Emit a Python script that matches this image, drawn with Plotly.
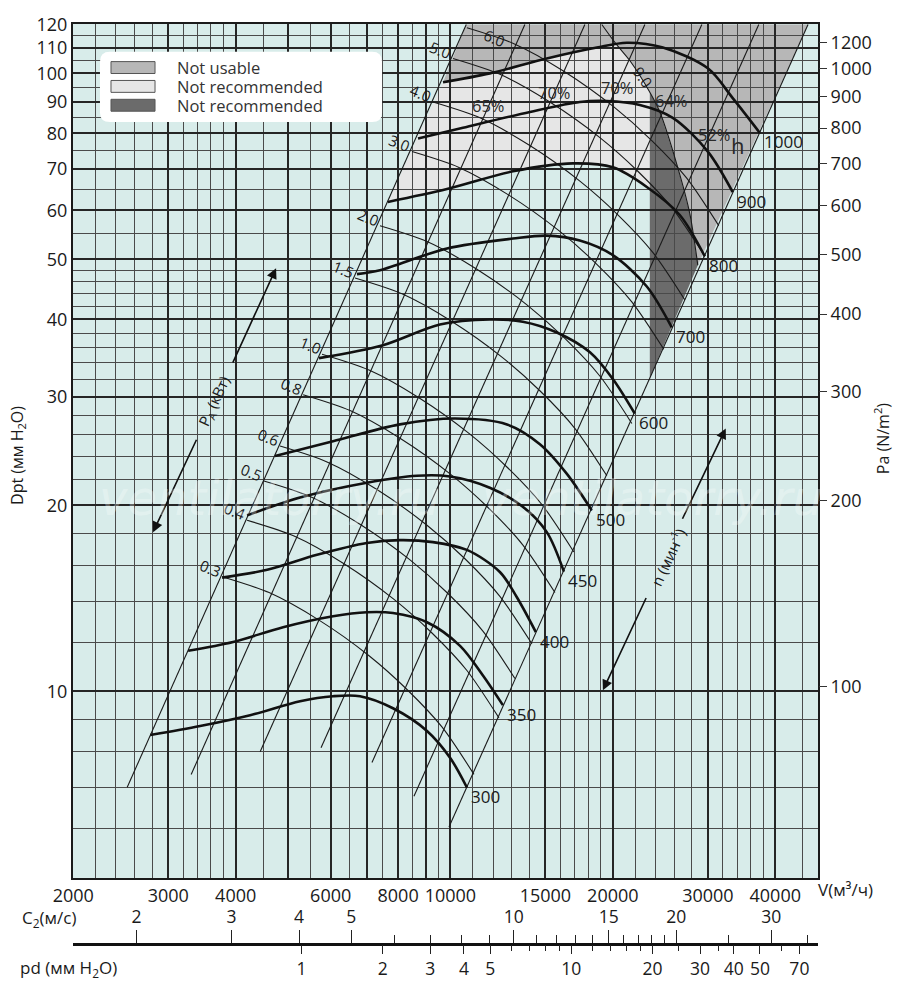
import numpy as np
import plotly.graph_objects as go

lg = np.log10

# fan curves: V (m3/h) against Dpt (mm H2O), one list per speed
rpm_labels = ["300", "350", "400", "450", "500", "600", "700", "800", "900", "1000"]
rpm_V = [
    [2778, 3437, 4254, 5265, 6060, 6800, 7827, 9050, 9985, 10730],
    [3266, 3957, 4897, 6060, 7000, 7827, 9050, 10420, 11490, 12510],
    [3775, 4576, 5660, 7000, 8063, 9283, 10730, 12350, 13280, 14400],
    [4200, 5265, 7000, 8670, 9980, 11830, 13620, 15090, 16230],
    [4733, 6060, 8063, 10200, 12730, 14650, 16440, 18290],
    [5709, 7500, 9564, 11830, 13620, 15750, 18140, 20000, 21960],
    [6713, 7405, 9855, 13060, 15090, 17370, 20000, 23120, 25720],
    [7660, 9855, 13060, 16870, 20000, 23120, 26610, 29610],
    [8710, 10550, 14040, 17370, 19500, 22440, 25830, 30000, 33360],
    [9690, 11830, 15090, 18680, 21230, 24760, 30000, 33360, 37430],
]
rpm_P = [
    [8.50, 8.79, 9.15, 9.64, 9.82, 9.82, 9.39, 8.63, 7.81, 6.99],
    [11.63, 12.02, 12.70, 13.23, 13.43, 13.39, 12.94, 11.85, 10.61, 9.50],
    [15.28, 15.73, 16.63, 17.38, 17.57, 17.44, 16.94, 15.6, 14.2, 12.47],
    [19.27, 20.59, 21.76, 22.33, 22.27, 21.36, 19.9, 18.1, 15.62],
    [24.03, 25.40, 27.04, 27.64, 27.04, 25.12, 22.49, 19.62],
    [34.61, 36.31, 39.23, 39.96, 39.65, 38.09, 35.38, 32.03, 28.16],
    [47.34, 48.04, 52.09, 54.04, 54.64, 53.64, 50.8, 45.2, 38.80],
    [61.94, 64.99, 69.42, 71.50, 70.47, 65.5, 59.0, 50.58],
    [78.43, 81.66, 86.61, 89.87, 90.2, 88.87, 84.72, 74.73, 64.27],
    [96.74, 100.0, 105.7, 110.1, 112.1, 110.1, 101.9, 91.2, 80.17],
]

# shaft power lines P_A (kW)
power_labels = ["0.3", "0.4", "0.5", "0.6", "0.8", "1.0", "1.5", "2.0",
                "3.0", "4.0", "5.0", "6.0", "9.0"]
power_V = [
    [3775, 4613, 5708, 7067, 8309, 9645, 11057],
    [4200, 5132, 6350, 7862, 9244, 10731, 12302],
    [4496, 5494, 6798, 8417, 9896, 11487, 13169],
    [4834, 5907, 7309, 9049, 10640, 12351, 14159],
    [5334, 6518, 8065, 9985, 11740, 13628, 15623],
    [5782, 7066, 8742, 10824, 12726, 14773, 16935],
    [6656, 8134, 10064, 12460, 14650, 17006, 19495],
    [7405, 9049, 11196, 13862, 16298, 18920, 21689],
    [8488, 10372, 12834, 15890, 18682, 21687, 24861],
    [9283, 11344, 14036, 17378, 20432, 23718, 27190],
    [10110, 12354, 15286, 18926, 22252, 25831, 29612],
    [10730, 13112, 16224, 20087, 23617, 27415, 31428],
    [19080, 20260, 21500, 23420, 24440, 26280, 27780, 28740],
]
power_P = [
    [15.33, 14.45, 13.04, 11.42, 10.07, 8.76, 7.34],
    [18.92, 17.84, 16.09, 14.09, 12.43, 10.81, 9.06],
    [21.92, 20.67, 18.64, 16.32, 14.40, 12.52, 10.49],
    [24.94, 23.51, 21.21, 18.57, 16.39, 14.25, 11.94],
    [30.2, 28.47, 25.68, 22.49, 19.84, 17.25, 14.45],
    [35.12, 33.11, 29.86, 26.15, 23.07, 20.06, 16.81],
    [46.65, 43.98, 39.67, 34.74, 30.65, 26.65, 22.33],
    [56.69, 53.45, 48.20, 42.22, 37.25, 32.38, 27.13],
    [74.73, 70.45, 63.54, 55.65, 49.10, 42.69, 35.77],
    [89.87, 84.73, 76.42, 66.93, 59.04, 51.33, 43.01],
    [105.7, 99.65, 89.88, 78.72, 69.44, 60.38, 50.59],
    [118.5, 111.7, 100.8, 88.25, 77.85, 67.69, 56.71],
    [120.0, 111.7, 104.9, 93.2, 86.6, 71.26, 59.27, 48.94],
]
p6_label = (12090, 114.2)
p9_label = (22730, 98.5)

# efficiency lines (straight, Dp ~ V^2): lower and upper ends
eff_V0 = [3308, 4440, 5758, 7156, 8560]
eff_P0 = [7.336, 7.987, 8.106, 7.67, 6.765]
eff_V1 = [13740, 17750, 22930, 29240, 37280]
eff_P1 = [120, 120, 120, 120, 120]
eff_labels = ["65%", "70%", "70%", "64%", "52%"]
eff_label_V = [11790, 15620, 20430, 25720, 30900]
eff_label_P = [88.87, 93.2, 94.97, 90.5, 79.58]

# limits of the working field
left_V = [2518, 10700]
left_P = [6.995, 120]
right_V = [9940, 46000]
right_P = [6.035, 120]
v_limit = 23420

# bottom scales
outlet_area = 0.364  # m2
air_density = 1.2
c2_major = [2, 3, 4, 5, 10, 15, 20, 30]
c2_minor = [6, 7, 8, 9, 11, 12, 13, 14, 16, 17, 18, 19, 25, 35]
pd_major = [1, 2, 3, 4, 5, 10, 20, 30, 40, 50, 70]
pd_minor = [6, 7, 8, 9, 12, 14, 16, 18, 25, 35, 60]

# axes ticks / grid
x_major = [2000, 3000, 4000, 5000, 6000, 7000, 8000, 9000, 10000, 15000, 20000, 30000, 40000]
x_text = ["2000", "3000", "4000", "", "6000", "", "8000", "", "10000", "15000", "20000", "30000", "40000"]
x_minor = [2200, 2400, 2600, 2800, 3200, 3400, 3600, 3800, 4500, 5500, 6500, 7500, 8500, 9500,
           11000, 12000, 13000, 14000, 16000, 17000, 18000, 19000, 22000, 24000, 26000, 28000,
           32000, 34000, 36000, 38000, 45000]
y_major = [10, 20, 30, 40, 50, 60, 70, 80, 90, 100, 110, 120]
y_minor = [5, 6, 7, 8, 9, 12, 14, 16, 18, 22, 24, 26, 28, 32, 34, 36, 38, 42, 44, 46, 48,
           55, 65, 75, 85, 95, 105, 115]
pa_ticks = [100, 200, 300, 400, 500, 600, 700, 800, 900, 1000, 1100]
pa_text = ["100", "200", "300", "400", "500", "600", "700", "800", "900", "1000", "1200"]

GREY_MID = "#b7b7b7"
GREY_LIGHT = "#e6e6e6"
GREY_DARK = "#6b6b6b"
INK = "#1a1a1a"
FONT = "Open Sans"


def path_of(vs, ps):
    pts = ["%s,%s" % (v, p) for v, p in zip(vs, ps)]
    return "M" + " L".join(pts) + " Z"


def log_interp(v, vs, ps):
    return 10 ** np.interp(lg(v), lg(vs), lg(ps))


def paper_text(x, y, text, size=17, angle=0, xanchor="center"):
    fig.add_annotation(xref="paper", yref="paper", x=x, y=y, text=text, showarrow=False,
                       xanchor=xanchor, yanchor="middle", textangle=angle,
                       font=dict(size=size, color=INK))


fig = go.Figure()

# ---- shaded zones (under the grid)
r10V, r10P = rpm_V[-1], rpm_P[-1]
p9V, p9P = power_V[-1], power_P[-1]
v_cross = p9V[1]
top_part = [(v, p) for v, p in zip(r10V, r10P) if v < v_cross]

mid_V = [left_V[1], right_V[1], p9V[-1]] + p9V[1:-1][::-1] + [v for v, p in top_part][::-1]
mid_P = [left_P[1], right_P[1], p9P[-1]] + p9P[1:-1][::-1] + [p for v, p in top_part][::-1]

r8V, r8P = rpm_V[7], rpm_P[7]
p8_lim = log_interp(v_limit, r8V, r8P)
low_part = [(v, p) for v, p in zip(r8V, r8P) if v < v_limit]
i_lim = p9V.index(v_limit)
light_V = [v for v, p in top_part] + p9V[1:i_lim + 1] + [v_limit] + [v for v, p in low_part][::-1]
light_P = [p for v, p in top_part] + p9P[1:i_lim + 1] + [p8_lim] + [p for v, p in low_part][::-1]

right_lim = log_interp(v_limit, right_V, right_P)
dark_V = p9V[i_lim:] + [v_limit]
dark_P = p9P[i_lim:] + [right_lim]

for vs, ps, col in [(mid_V, mid_P, GREY_MID), (light_V, light_P, GREY_LIGHT), (dark_V, dark_P, GREY_DARK)]:
    fig.add_shape(type="path", path=path_of(vs, ps), xref="x", yref="y",
                  fillcolor=col, line=dict(width=0), layer="below")

# ---- thin lines: limits, efficiency lines, power lines
thin = dict(color=INK, width=1.1)
for vs, ps in [(left_V, left_P), (right_V, right_P)]:
    fig.add_trace(go.Scatter(x=vs, y=ps, mode="lines", line=thin, hoverinfo="skip"))
for v0, p0, v1, p1 in zip(eff_V0, eff_P0, eff_V1, eff_P1):
    fig.add_trace(go.Scatter(x=[v0, v1], y=[p0, p1], mode="lines", line=thin, hoverinfo="skip"))
for vs, ps in zip(power_V, power_P):
    fig.add_trace(go.Scatter(x=vs, y=ps, mode="lines", line=dict(color=INK, width=1.1, shape="spline", smoothing=0.8),
                             hoverinfo="skip"))

# ---- fan speed curves
for vs, ps in zip(rpm_V, rpm_P):
    fig.add_trace(go.Scatter(x=vs, y=ps, mode="lines",
                             line=dict(color="#111111", width=2.6, shape="spline", smoothing=0.9),
                             hoverinfo="skip"))

# invisible markers so the extra axes get drawn
c_to_v = 3600 * outlet_area
fig.add_trace(go.Scatter(x=[10], y=[10], xaxis="x2", yaxis="y", mode="markers", marker=dict(opacity=0), hoverinfo="skip"))
fig.add_trace(go.Scatter(x=[10], y=[10], xaxis="x3", yaxis="y", mode="markers", marker=dict(opacity=0), hoverinfo="skip"))
fig.add_trace(go.Scatter(x=[5000], y=[300], xaxis="x", yaxis="y2", mode="markers", marker=dict(opacity=0), hoverinfo="skip"))

# ---- labels
for lab, vs, ps in zip(rpm_labels, rpm_V, rpm_P):
    fig.add_annotation(x=lg(vs[-1]), y=lg(ps[-1]), text=lab, showarrow=False, xanchor="left", yanchor="middle",
                       xshift=2, yshift=-9, font=dict(size=17, color=INK))
for lab, vs, ps in zip(power_labels[:-2], power_V[:-2], power_P[:-2]):
    fig.add_annotation(x=lg(vs[0]), y=lg(ps[0]), text=lab, showarrow=False, textangle=22,
                       xshift=-12, yshift=9, font=dict(size=15, color=INK))
fig.add_annotation(x=lg(p6_label[0]), y=lg(p6_label[1]), text="6.0", showarrow=False, textangle=22,
                   font=dict(size=15, color=INK))
fig.add_annotation(x=lg(p9_label[0]), y=lg(p9_label[1]), text="9.0", showarrow=False, textangle=55,
                   font=dict(size=15, color=INK))
for lab, v, p in zip(eff_labels, eff_label_V, eff_label_P):
    fig.add_annotation(x=lg(v), y=lg(p), text=lab, showarrow=False, font=dict(size=16.5, color="#2a2a2a"))
fig.add_annotation(x=lg(34080), y=lg(76.7), text="h", showarrow=False, font=dict(size=22, color="#2a2a2a"))

# arrows: P_A and n
arrows = [((4753, 48.40), (3940, 33.85)), ((2812, 18.10), (3394, 25.68)),
          ((32380, 26.64), (26840, 18.92)), ((19170, 10.04), (23120, 14.24))]
for (hv, hp), (tv, tp) in arrows:
    fig.add_annotation(x=lg(hv), y=lg(hp), ax=lg(tv), ay=lg(tp), axref="x", ayref="y", text="",
                       showarrow=True, arrowhead=2, arrowsize=1.3, arrowwidth=1.6, arrowcolor="#111111",
                       standoff=0, startstandoff=0)
fig.add_annotation(x=lg(3648), y=lg(29.43), text="P<sub>A</sub> (кВт)", showarrow=False, textangle=-65,
                   font=dict(size=15, color=INK))
fig.add_annotation(x=lg(25290), y=lg(16.51), text="n (мин<sup>-1</sup>)", showarrow=False, textangle=-65,
                   font=dict(size=15, color=INK))

# watermark
for wx in (0.2644, 0.7785):
    fig.add_annotation(xref="paper", yref="paper", x=wx, y=0.5026, text="ventilatorry.ru", showarrow=False,
                       xanchor="center", yanchor="middle",
                       font=dict(family="DejaVu Sans", size=48, color="rgba(255,255,255,0.3)", style="italic"))

# ---- legend box
x0, x1, y0, y1 = 0.0362, 0.4148, 0.897, 0.9709
rx, ry = 0.0134, 0.0104
box = ("M %f,%f L %f,%f Q %f,%f %f,%f L %f,%f Q %f,%f %f,%f L %f,%f Q %f,%f %f,%f L %f,%f Q %f,%f %f,%f Z" %
       (x0 + rx, y1, x1 - rx, y1, x1, y1, x1, y1 - ry, x1, y0 + ry, x1, y0, x1 - rx, y0,
        x0 + rx, y0, x0, y0, x0, y0 + ry, x0, y1 - ry, x0, y1, x0 + rx, y1))
fig.add_shape(type="path", path=box, xref="paper", yref="paper", fillcolor="white",
              line=dict(width=0), layer="above")
legend_rows = [("Not usable", GREY_MID, 0.9605, 0.9480, 0.9542),
               ("Not recommended", GREY_LIGHT, 0.9407, 0.9282, 0.9344),
               ("Not recommended", GREY_DARK, 0.9209, 0.9084, 0.9147)]
for name, col, ya, yb, yc in legend_rows:
    fig.add_shape(type="rect", xref="paper", yref="paper", x0=0.0510, x1=0.1101, y0=yb, y1=ya,
                  fillcolor=col, line=dict(color="#555555", width=1), layer="above")
    fig.add_annotation(xref="paper", yref="paper", x=0.1369, y=yc, text=name, showarrow=False,
                       xanchor="left", yanchor="middle", font=dict(size=16.5, color="#333333"))

# ---- axis titles and scale names
paper_text(-0.0738, 0.5463, "Dpt (мм H<sub>2</sub>O)", size=16, angle=-90)
paper_text(1.086, 0.565, "Pa (N/m<sup>2</sup>)", size=16, angle=-90)
paper_text(0.9973, 0.0905, "V(м³/ч)", xanchor="left")
paper_text(-0.0711, 0.0605, "C<sub>2</sub>(м/с)", xanchor="left")
paper_text(-0.0738, 0.0084, "pd (мм H<sub>2</sub>O)", xanchor="left")

v_lo, v_hi = 1998, 48000
c_lo, c_hi = v_lo / c_to_v, v_hi / c_to_v
pd_lo = air_density * c_lo ** 2 / 2 / 9.81
pd_hi = air_density * c_hi ** 2 / 2 / 9.81
line_pos = 0.0333

fig.update_layout(
    width=900, height=992,
    margin=dict(l=73, r=82, t=19, b=12),
    paper_bgcolor="white", plot_bgcolor="#d8ecea",
    showlegend=False,
    font=dict(family=FONT, size=16, color=INK),
    xaxis=dict(type="log", range=[lg(v_lo), lg(v_hi)], tickmode="array", tickvals=x_major, ticktext=x_text,
               showgrid=True, gridcolor="#262626", gridwidth=2, ticks="", zeroline=False,
               minor=dict(tickvals=x_minor, showgrid=True, gridcolor="#4a4a4a", gridwidth=1, ticks=""),
               showline=True, linecolor=INK, linewidth=2, mirror=True, tickfont=dict(size=18, color=INK)),
    yaxis=dict(type="log", domain=[0.103, 1], range=[lg(4.99), lg(120.2)], tickmode="array",
               tickvals=y_major, ticktext=[str(v) for v in y_major],
               showgrid=True, gridcolor="#262626", gridwidth=2, ticks="", zeroline=False,
               minor=dict(tickvals=y_minor, showgrid=True, gridcolor="#4a4a4a", gridwidth=1, ticks=""),
               showline=True, linecolor=INK, linewidth=2, mirror=True, tickfont=dict(size=18, color=INK)),
    yaxis2=dict(type="log", overlaying="y", side="right", range=[lg(4.99 * 9.81), lg(120.2 * 9.81)],
                tickmode="array", tickvals=pa_ticks, ticktext=pa_text, showgrid=False, zeroline=False,
                ticks="outside", ticklen=8, tickcolor="#333333", tickwidth=1.2,
                tickfont=dict(size=18, color=INK)),
    xaxis2=dict(type="log", overlaying="x", anchor="free", position=line_pos, side="top",
                range=[lg(c_lo), lg(c_hi)], tickmode="array", tickvals=c2_major,
                ticktext=[str(v) for v in c2_major], showgrid=False, zeroline=False,
                ticks="outside", ticklen=13, tickwidth=1.4, tickcolor="#222222",
                minor=dict(tickvals=c2_minor, ticks="outside", ticklen=8, tickwidth=1.2,
                           tickcolor="#222222", showgrid=False),
                showline=True, linecolor="#111111", linewidth=3, tickfont=dict(size=17.5, color=INK)),
    xaxis3=dict(type="log", overlaying="x", anchor="free", position=line_pos, side="bottom",
                range=[lg(pd_lo), lg(pd_hi)], tickmode="array", tickvals=pd_major,
                ticktext=[str(v) for v in pd_major], showgrid=False, zeroline=False,
                ticks="outside", ticklen=9, tickwidth=1.4, tickcolor="#222222",
                minor=dict(tickvals=pd_minor, ticks="outside", ticklen=6, tickwidth=1.2,
                           tickcolor="#222222", showgrid=False),
                showline=False, tickfont=dict(size=17.5, color=INK)),
)

# the page body adds a margin and a baseline gap below the fixed-size figure; remove both
page_fix = ("document.body.style.margin='0px';"
            "document.body.style.lineHeight='0';"
            "document.documentElement.style.overflow='hidden';")
fig.write_html("out.html", config={"displayModeBar": False}, post_script=page_fix)
